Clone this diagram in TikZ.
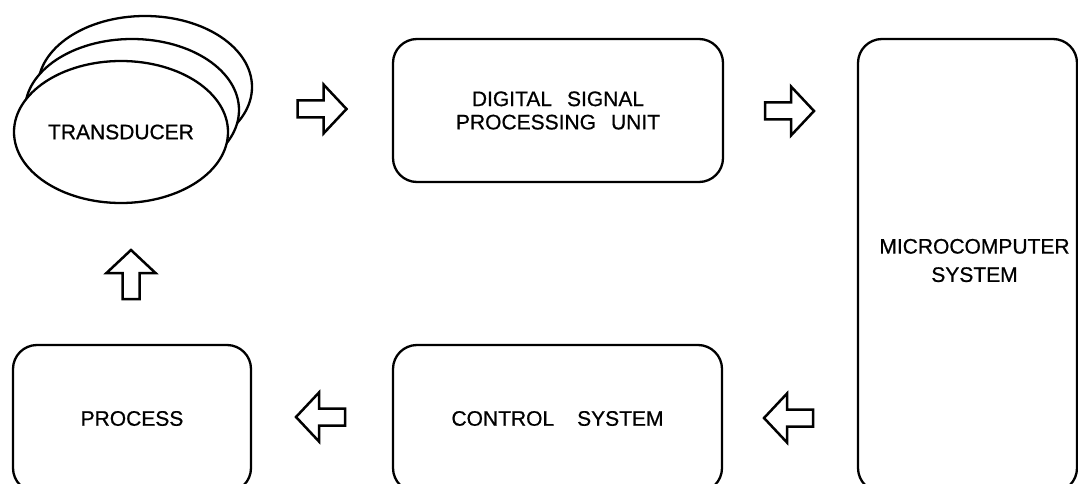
\documentclass[tikz,border=0pt]{standalone}
\usepackage{fontspec}
\setmainfont{Liberation Sans}
\usetikzlibrary{shapes.geometric}
\begin{document}
\begin{tikzpicture}[x=1pt,y=-1pt,
  outline/.style={draw=black, line width=2.3pt},
  block/.style={outline, rectangle, rounded corners=24pt, inner sep=0pt},
  disc/.style={outline, fill=white, ellipse, minimum width=214pt, minimum height=142pt, inner sep=0pt},
  lbl/.style={font=\fontsize{21}{23.3}\selectfont\addfontfeature{FakeBold=0.7}, align=center},
  arrowline/.style={outline, line width=2.5pt, line join=miter, fill=white},
  fatarrow/.pic={\draw[arrowline] (-24.5,-8.5) -- (1.5,-8.5) -- (1.5,-24.5) -- (24.5,0)
      -- (1.5,24.5) -- (1.5,8.5) -- (-24.5,8.5) -- cycle;}]
\useasboundingbox (0,0) rectangle (1078,484);
\clip (0,0) rectangle (1078,484);

% stacked transducer discs
\node[disc] (back) at (145,87) {};
\node[disc] (middle) at (132,110) {};
\node[disc, lbl] (trans) at (121,132) {TRANSDUCER};

% processing chain
\node[block, lbl, minimum width=330pt, minimum height=143pt] (dsp) at (558,110.5)
  {DIGITAL\hspace{15pt}SIGNAL\\PROCESSING\hspace{15pt}UNIT};
\node[block, minimum width=219pt, minimum height=453pt] (micro) at (967.5,265.5) {};
\node[lbl] (microtext) at (974.5,260.5) {MICROCOMPUTER\\[5pt]SYSTEM};
\node[block, lbl, minimum width=329pt, minimum height=147pt] (control) at (557.5,418.5)
  {CONTROL\hspace{23pt}SYSTEM};
\node[block, lbl, minimum width=238pt, minimum height=147pt] (process) at (132,418.5)
  {PROCESS};

% signal flow arrows
\pic (a1) at (322,109) {fatarrow};
\pic (a2) at (789.5,111) {fatarrow};
\pic[rotate=180] (a3) at (788.5,418) {fatarrow};
\pic[rotate=180] (a4) at (320.5,417) {fatarrow};
\pic[rotate=90] (a5) at (131,274.5) {fatarrow};
\end{tikzpicture}
\end{document}
